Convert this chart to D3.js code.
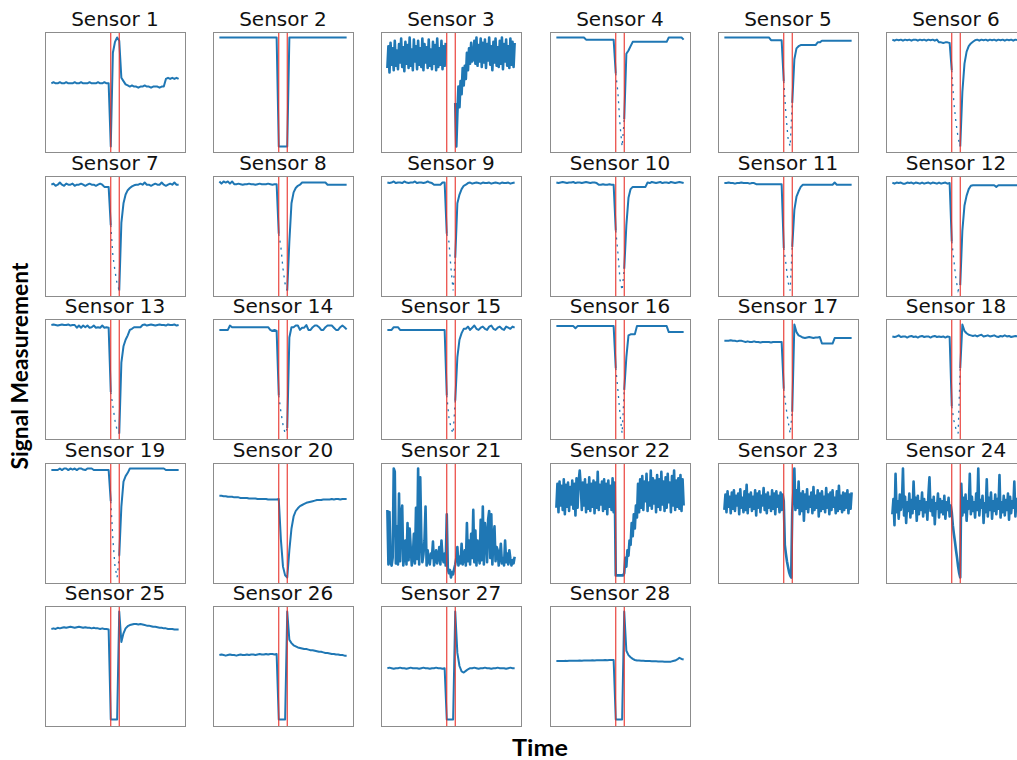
<!DOCTYPE html>
<html><head><meta charset="utf-8">
<script src="https://cdn.jsdelivr.net/npm/d3@7"></script>
<style>body{margin:0;background:#fff;overflow:hidden}</style>
</head><body><svg id="chart" width="1017" height="760"></svg>
<script>
// ---------------- DATA ----------------
const sensorNames = ["Sensor 1","Sensor 2","Sensor 3","Sensor 4","Sensor 5","Sensor 6","Sensor 7","Sensor 8","Sensor 9","Sensor 10","Sensor 11","Sensor 12","Sensor 13","Sensor 14","Sensor 15","Sensor 16","Sensor 17","Sensor 18","Sensor 19","Sensor 20","Sensor 21","Sensor 22","Sensor 23","Sensor 24","Sensor 25","Sensor 26","Sensor 27","Sensor 28"];
const timeRange = [0, 120];          // samples are evenly spaced over this span
const eventTimes = [56, 64];         // red vertical markers
const valueRange = [0, 100];         // normalised signal scale
const sparseSensors = [4,5,6,7,8,9,10,11,12,13,14,15,16,17,18,19]; // readings inside the event window are sparse
const xLabel = "Time";
const yLabel = "Signal Measurement";

const s1 = [58,59,58,58,59,58,58,59,58,58,58,59,58,58,59,58,58,58,59,58,58,58,59,58,58,59,58,58,0,86,96,100,97,63,60,57,56,55,56,55,55,54,55,55,56,55,55,54,55,55,55,54,55,55,62,63,62,63,62,63,62];
const s2 = [100,100,100,100,100,100,100,100,100,100,100,100,100,100,100,100,100,100,100,100,100,100,100,100,100,100,100,100,0,0,0,0,0,100,100,100,100,100,100,100,100,100,100,100,100,100,100,100,100,100,100,100,100,100,100,100,100,100,100,100,100];
const s3 = [72,92,68,95,75,90,70,97,74,88,71,94,77,99,73,91,69,96,76,93,72,100,74,89,70,98,78,92,71,97,75,90,73,99,70,94,77,91,72,98,74,89,71,96,76,93,70,99,73,90,75,97,71,92,74,95,
  null,null,null,null,null,null,null,null,
  40,0,30,55,36,60,48,72,56,74,62,86,70,90,76,95,78,
  80,97,76,100,74,93,78,99,73,95,77,98,72,94,79,100,75,92,70,96,77,99,74,91,73,97,76,100,71,94,78,98,74,92,72,99,75,96,73,95];
const s4 = [100,100,100,100,100,100,100,100,100,100,100,100,100,100,98,98,98,98,98,98,98,98,98,98,98,98,98,98,67,50,20,0,25,85,88,92,96,96,96,96,96,96,96,96,96,96,96,96,96,96,96,96,96,100,100,100,100,100,100,100,98];
const s5 = [100,100,100,100,100,100,100,100,100,100,100,100,100,100,100,100,100,100,100,100,100,100,97.5,97.5,97.5,97.5,97.5,97.5,60,30,8,0,40,80,90,92,93,93,93,93,93,93,93,93,95.5,95.5,97,97,97,97,97,97,97,97,97,97,97,97,97,97,97];
const s6 = [98,97,98,97.5,98,97,98,97.5,98,97,98,98,97,98,97.5,98,97,98,97.5,98,97,98,95.5,95.5,95,95.5,95.5,95,70,40,22,8,0,50,76,87,92,94.5,96,97.5,98,97,98,97.5,98,97,98,97.5,98,97,98,97.5,98,97,98,97.5,98,97,98,97.5,98];
const s7 = [97,98,96,97,99,97,96,98,97,97,98,96,97,97,98,97,96,97,98,97,97,96,97,98,97,95,95,95,60,32,18,6,0,62,80,88,92,94,95.5,96.5,97,97,98,97,99,97,97,96,97,98,97,97,99,97,96,97,98,97,99,97,97];
const s8 = [100,98,100,99,100,98,100,97.5,97.5,98,97.5,97,97.5,97.5,98,97.5,97.5,97,97.5,98,97.5,97.5,97.5,98,97.5,97,97.5,97.5,52,40,20,6,0,45,80,90,94,96,97,99,99,99,99,99,99,99,99,99,99,99,99,97,97,97,97,97,97,97,97,97,97];
const s9 = [99,98.5,99,100,98.5,99,99,98.5,100,99,98.5,99,99,100,98.5,99,99,98.5,99,100,99,98.5,97,97,97,97,99,99,52,45,20,0,30,80,88,93,96,97,98.5,99,98,98.5,99,98.5,98,99,98.5,98.5,99,98,98.5,99,98.5,98,99,98.5,98.5,99,98,98.5,99];
const s10 = [99,98.5,99,99.5,99,98.5,99,99,99.5,98.5,99,99,98.5,99,99.5,99,98.5,99,99,98.5,97,97,97.5,97,97,97.5,97,97,55,35,10,0,20,60,85,93,95,95,95,95,95,95,95,99,98.5,99.5,99,98.5,99,99.5,98.5,99,99,98.5,99.5,99,98.5,99,99.5,99,98.5];
const s11 = [98.5,98.5,99,98.5,98.5,98,98.5,98.5,99,98.5,98.5,98.5,98,98.5,98.5,97.5,97.5,97.5,97.5,97.5,97.5,97.5,97.5,97.5,97.5,97.5,97.5,97.5,39,25,8,0,40,74,86,91,95,97,97,97,97,97,97,97,97,97,97,97,97,97,97,97,99,97,97,97,97,97,97,97,97];
const s12 = [99,98,99,98.5,99,98,98,99,98.5,99,98,99,98.5,98,99,98,98.5,99,98,99,98.5,98,99,98,98.5,99,98,98.5,45,28,10,0,5,55,78,87,93,96,96.5,96.5,96.5,96.5,96.5,96.5,96.5,96.5,96.5,96.5,96.5,95,96.5,96.5,96.5,96.5,96.5,96.5,96.5,96.5,96.5,96.5,96.5];
const s13 = [99.5,100,99.5,99,99.5,100,99.5,99.5,100,99,99.5,99.5,97,99,97,99,97.5,99,97,97.5,99,97,97.5,97,99,97,97.5,97,38,25,12,3,0,65,80,86,90,95,96,97.5,97.5,97.5,97.5,99.5,100,99,99.5,100,99.5,99,99.5,100,99.5,99.5,99,100,99.5,99.5,100,99,99.5];
const s14 = [95,95,95,95,95,99,97.5,97.5,97.5,97.5,97.5,97.5,97.5,97.5,97.5,97.5,97.5,97.5,97.5,97.5,97.5,97.5,97.5,97.5,95,94,95,94,35,20,8,0,5,88,97.5,97.5,99,99,95,97,97,99.5,95,95,97.5,99,99,97.5,95,95,97.5,99,99,99,97,95,95,97.5,99,97.5,95.5];
const s15 = [95,95,95,97.5,97.5,97.5,95,95,95,95,95,95,95,95,95,95,95,95,95,95,95,95,95,95,95,95,95,95,35,15,5,0,30,70,86,92,96,96,98,95,97,99,96,95,97,98,96,95,98,99,96,95,97,98,96,95,98,97,96,98,97];
const s16 = [98.5,98.5,98.5,98.5,98.5,98.5,98.5,98.5,98.5,96.5,98.5,98.5,98.5,98.5,98.5,98.5,98.5,98.5,98.5,98.5,98.5,98.5,98.5,98.5,98.5,98.5,98.5,98.5,60,40,18,0,40,70,90,91,91,91,98.5,98.5,98.5,98.5,98.5,98.5,98.5,98.5,98.5,98.5,98.5,98.5,98.5,98.5,98.5,93,93,93,93,93,93,93,93];
const s17 = [85,85,85,85.5,85,85,84.5,85,85,84.5,84,84.5,84,84,84.5,84,84,83.5,84,84,84,84,83.5,84,84,84,84,84,41,25,12,0,20,100,93,90,89,88,87.5,88,88.5,88,87.5,88,88,88.5,82.5,82.5,82.5,82.5,82.5,82.5,87.5,87.5,87.5,87.5,87.5,87.5,87.5,87.5,87.5];
const s18 = [89,88.5,89,90,88.5,89,89,88,89,89.5,88.5,89,88,89,89.5,88.5,89,89,88,89,89.5,88.5,89,88.5,89,88,89,88.5,25,12,4,0,60,100,94,92,90.5,90,89.5,90,89,90,90.5,89,89.5,90,89,89.5,90,89,88.5,89.5,89,90,89,89.5,88.5,89,89.5,89,89];
const s19 = [98.6,98.6,98.6,98.6,100,98.5,100,100,98.5,100,99,100,98.5,100,100,99,98.5,100,100,100,98.6,98.6,98.6,98.6,98.6,98.6,98.6,98.6,70,35,10,0,20,65,88,93,96,100,100,100,100,100,100,100,100,100,100,100,100,100,100,100,100,100,98.6,98.6,98.6,98.6,98.6,98.6,98.6];
const s20 = [75,75,74.5,74.5,74,74,74,73.5,73.5,73.5,73,73,73,73,72.5,72.5,72.5,72.5,72,72,72,72,72,71.5,71.5,71.5,71.5,71.5,72,35,10,2,0,25,45,56,61,63.5,65.5,66.5,67.5,68.5,69,69.5,70,70.5,71,71,71,71.5,71.5,71.5,71.5,72,71.5,72,72,71.5,72,72,72];
const s21 = [62,12,60,14,11,18,100,97,13,47,12,77,15,58,66,11,20,34,12,50,16,45,28,11,19,40,13,64,17,100,12,92,37,14,21,34,65,11,25,15,12,22,18,33,11,17,25,13,19,28,12,34,19,14,22,11,58,8,4,7,0,5,3,8,12,18,28,11,19,13,31,12,17,25,11,50,15,34,12,40,18,62,14,43,11,34,20,13,53,16,65,12,50,40,14,53,61,18,58,12,37,47,15,28,25,11,19,31,13,18,11,34,14,22,12,25,17,11,16,13,19];
const s22 = [64,86,60,88,66,84,62,90,58,85,65,87,61,83,67,89,63,86,57,91,64,88,98,84,62,87,66,90,60,85,63,92,61,86,65,89,59,87,64,97,62,85,67,88,61,90,63,86,58,89,65,84,62,91,60,87,
  2,2,2,2,2,2,2,2,
  4,18,10,25,20,34,30,50,38,58,45,66,55,86,60,
  90,64,93,62,88,70,95,61,87,66,98,63,91,68,89,60,94,65,90,62,97,67,88,61,92,64,95,69,87,60,93,66,98,62,89,65,91,63,94,61,90,66];
const s23 = [62,76,60,79,65,74,59,78,63,80,61,75,66,77,58,81,64,73,60,79,62,85,59,76,65,78,61,74,63,80,57,77,64,79,60,75,66,82,62,76,59,78,64,74,61,80,63,77,58,79,65,75,60,78,62,76,
  70,30,22,15,10,5,2,0,
  60,78,100,62,80,64,88,58,77,61,79,52,76,63,81,60,74,65,78,59,83,62,75,64,80,56,77,61,79,63,74,60,82,64,76,58,78,62,80,65,73,59,79,61,84,63,75,60,78,62,77,64,80,59,76,63,78];
const s24 = [58,72,48,95,60,70,54,76,62,68,100,57,74,50,69,61,77,55,71,59,88,63,73,52,75,58,70,62,78,56,72,60,69,53,76,92,61,71,57,74,49,68,63,77,55,72,60,70,58,75,54,69,62,73,56,66,
  60,48,40,33,25,18,10,4,0,
  86,57,73,60,76,52,70,63,95,58,74,61,69,55,77,62,100,57,71,64,75,50,68,60,90,56,73,62,78,54,70,61,76,58,72,63,94,55,69,60,75,57,71,62,77,53,74,59,70,64,88,56,72,61,75,58];
const s25 = [84,84.5,84,85,84.5,85,85.5,85,85.5,86,85.5,85,85.5,86,85.5,85,85.5,85,85,84.5,85,84.5,84.5,84,84.5,84,84,83.5,1,1,1,1,100,72,80,84.5,86.5,87.5,88,88.5,88.5,88,88.5,88,87.5,87,87,86.5,86,86,85.5,85,85,84.5,84.5,84,84,84,83.5,83.5,83.5];
const s26 = [60,60.5,60,59.5,60,60.5,60,60,59.5,60,60.5,60,60,60.5,60,60.5,60.5,60,60.5,61,60.5,60.5,61,60.5,61,61,60.5,61,1,1,1,1,100,74,71,69,68,67,66.5,66,65.5,65.5,65,64.5,64.5,64,63.5,63,63,62.5,62,62,61.5,61,61,60.5,60.5,60,60,59.5,59.5];
const s27 = [48,48.5,48,47.5,48,48,48.5,48,48,47.5,48,48.5,48,48,48,47.5,48,48.5,48,48,47.5,48,48,48.5,48,48,47.5,48,1,1,1,1,100,62,50,45,44,45.5,47,48,48,48.5,48,47.5,48,48,48.5,48,48,47.5,48,48,48.5,48,48,48,47.5,48,48.5,48,48];
const s28 = [54.5,54.5,54.6,54.5,54.7,54.6,54.8,54.7,54.8,54.9,54.8,55,54.9,55,55.1,55,55.1,55.2,55.1,55.2,55.3,55.2,55.3,55.4,55.3,55.4,55.5,55.5,1,1,1,1,100,64,60,58,56.5,55.5,55,55,54.8,54.8,54.6,54.6,54.5,54.4,54.4,54.3,54.2,54.2,54.1,54,54,54,54,54.5,55,56,57.5,56.5,56];

const sensorSeries = [s1,s2,s3,s4,s5,s6,s7,s8,s9,s10,s11,s12,s13,s14,s15,s16,s17,s18,s19,s20,s21,s22,s23,s24,s25,s26,s27,s28];

// ---------------- LAYOUT ----------------
const nCols = 6;
const panelLeft = 45, panelTop = 32, colStep = 168.2, rowStep = 143.5;
const boxW = 140, boxH = 120;
const lineColor = "#1f77b4", eventColor = "#e8312a";

const svg = d3.select("#chart");

const tSpan = timeRange[1] - timeRange[0];
const vSpan = valueRange[1] - valueRange[0];
const x = d3.scaleLinear().domain([timeRange[0] - 0.05 * tSpan, timeRange[1] + 0.05 * tSpan]).range([0, boxW]);
const y = d3.scaleLinear().domain([valueRange[0] - 0.05 * vSpan, valueRange[1] + 0.05 * vSpan]).range([boxH, 0]);

sensorSeries.forEach((vals, k) => {
  const col = k % nCols, row = Math.floor(k / nCols);
  const gx = Math.round(panelLeft + col * colStep), gy = Math.round(panelTop + row * rowStep);
  const g = svg.append("g").attr("transform", `translate(${gx},${gy})`);
  const n = vals.length;
  const pts = vals.map((v, i) => ({ t: timeRange[0] + i * tSpan / (n - 1), v }));
  const sparse = sparseSensors.includes(k + 1);
  const inWindow = d => d.t > eventTimes[0] && d.t < eventTimes[1];
  const sw = n > 100 ? 2.6 : 2;

  const line = d3.line()
    .defined(d => d.v !== null && !(sparse && inWindow(d)))
    .x(d => x(d.t)).y(d => y(d.v));
  g.append("path").datum(pts)
    .attr("d", line)
    .attr("fill", "none")
    .attr("stroke", lineColor)
    .attr("stroke-width", sw)
    .attr("stroke-linejoin", "round");

  if (sparse) {
    const win = pts.filter(d => d.t >= eventTimes[0] && d.t <= eventTimes[1]);
    g.append("path").datum(win)
      .attr("d", d3.line().x(d => x(d.t)).y(d => y(d.v)))
      .attr("fill", "none")
      .attr("stroke", lineColor)
      .attr("stroke-width", 1.3)
      .attr("stroke-dasharray", "2,5");
  }

  g.selectAll("line.event").data(eventTimes).join("line")
    .attr("class", "event")
    .attr("x1", d => x(d)).attr("x2", d => x(d))
    .attr("y1", 0).attr("y2", boxH)
    .attr("stroke", eventColor).attr("stroke-width", 1.1);

  g.append("rect")
    .attr("x", 0.5).attr("y", 0.5).attr("width", boxW).attr("height", boxH)
    .attr("fill", "none").attr("stroke", "#8c8c8c").attr("stroke-width", 1);

  g.append("text")
    .attr("x", boxW / 2).attr("y", -6)
    .attr("text-anchor", "middle")
    .attr("font-family", "DejaVu Sans")
    .attr("font-size", 20)
    .attr("fill", "#111")
    .text(sensorNames[k]);
});

svg.append("text")
  .attr("transform", "translate(28,366) rotate(-90)")
  .attr("text-anchor", "middle")
  .attr("font-family", "Lato")
  .attr("font-weight", 700)
  .attr("font-size", 23)
  .attr("textLength", 207).attr("lengthAdjust", "spacingAndGlyphs")
  .attr("fill", "#000")
  .text(yLabel);

svg.append("text")
  .attr("x", 540).attr("y", 756)
  .attr("text-anchor", "middle")
  .attr("font-family", "Lato")
  .attr("font-weight", 700)
  .attr("font-size", 23)
  .attr("textLength", 56).attr("lengthAdjust", "spacingAndGlyphs")
  .attr("fill", "#000")
  .text(xLabel);
</script>
</body></html>
